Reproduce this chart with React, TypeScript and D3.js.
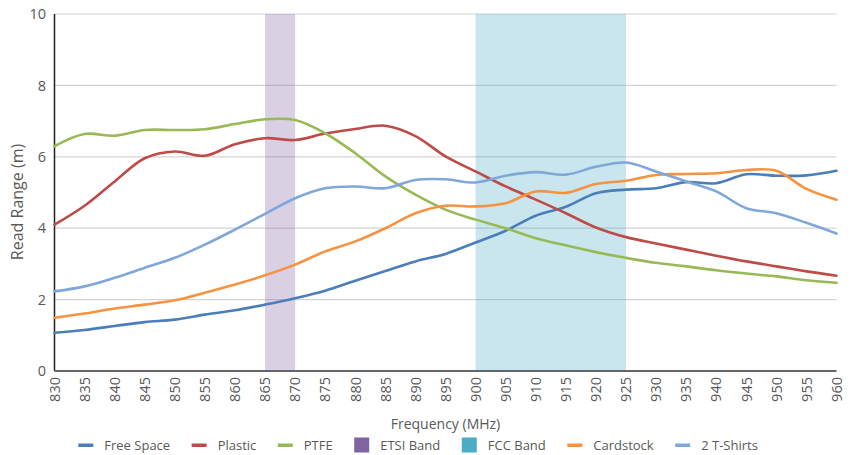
import React from 'react';
import * as d3 from 'd3';

const frequencies = [830, 835, 840, 845, 850, 855, 860, 865, 870, 875, 880, 885, 890, 895, 900, 905, 910, 915, 920, 925, 930, 935, 940, 945, 950, 955, 960];
const freeSpace = [1.07, 1.15, 1.26, 1.37, 1.44, 1.58, 1.70, 1.86, 2.04, 2.25, 2.53, 2.80, 3.07, 3.28, 3.60, 3.93, 4.35, 4.60, 4.98, 5.08, 5.12, 5.29, 5.26, 5.51, 5.47, 5.48, 5.61];
const plastic = [4.10, 4.63, 5.31, 5.96, 6.15, 6.03, 6.35, 6.52, 6.47, 6.65, 6.78, 6.87, 6.58, 6.01, 5.59, 5.17, 4.80, 4.42, 4.02, 3.75, 3.57, 3.40, 3.23, 3.07, 2.93, 2.79, 2.67];
const ptfe = [6.30, 6.64, 6.59, 6.75, 6.75, 6.77, 6.92, 7.05, 7.03, 6.66, 6.10, 5.45, 4.94, 4.52, 4.24, 4.00, 3.72, 3.52, 3.33, 3.17, 3.03, 2.93, 2.82, 2.73, 2.65, 2.54, 2.47];
const cardstock = [1.49, 1.61, 1.75, 1.86, 1.98, 2.19, 2.42, 2.68, 2.98, 3.35, 3.63, 4.00, 4.42, 4.63, 4.61, 4.70, 5.03, 4.99, 5.24, 5.33, 5.49, 5.52, 5.54, 5.63, 5.61, 5.10, 4.80];
const tShirts = [2.23, 2.37, 2.61, 2.89, 3.17, 3.54, 3.96, 4.40, 4.84, 5.12, 5.17, 5.12, 5.35, 5.37, 5.28, 5.47, 5.57, 5.50, 5.72, 5.84, 5.59, 5.31, 5.03, 4.56, 4.42, 4.15, 3.85];
const yTicks = [0, 2, 4, 6, 8, 10];
const etsiBand = [865, 870];
const fccBand = [900, 925];

const series = [
  { name: 'Free Space', values: freeSpace, color: '#4A7EBB' },
  { name: 'Plastic', values: plastic, color: '#BE4B48' },
  { name: 'PTFE', values: ptfe, color: '#98B954' },
  { name: 'Cardstock', values: cardstock, color: '#F69240' },
  { name: '2 T-Shirts', values: tShirts, color: '#7FA7D9' },
];

const bands = [
  { name: 'ETSI Band', range: etsiBand, color: '#8064A2' },
  { name: 'FCC Band', range: fccBand, color: '#4BACC6' },
];

const legendItems = [
  { name: 'Free Space', color: '#4A7EBB', kind: 'line' },
  { name: 'Plastic', color: '#BE4B48', kind: 'line' },
  { name: 'PTFE', color: '#98B954', kind: 'line' },
  { name: 'ETSI Band', color: '#8064A2', kind: 'box' },
  { name: 'FCC Band', color: '#4BACC6', kind: 'box' },
  { name: 'Cardstock', color: '#F69240', kind: 'line' },
  { name: '2 T-Shirts', color: '#7FA7D9', kind: 'line' },
];

const FONT = "'Open Sans', 'DejaVu Sans', sans-serif";
const TEXT = '#595959';

function measure(text: string, size: number): number {
  const c = document.createElement('canvas');
  const ctx = c.getContext('2d');
  if (!ctx) return text.length * size * 0.5;
  ctx.font = `${size}px 'Open Sans'`;
  return ctx.measureText(text).width;
}

export default function App() {
  const W = 856, H = 455;
  const x = d3.scaleLinear().domain([830, 960]).range([54.5, 836.5]);
  const y = d3.scaleLinear().domain([0, 10]).range([371, 14]);

  const line = d3
    .line<number>()
    .x((_, i) => x(frequencies[i]))
    .y((d) => y(d))
    .curve(d3.curveCatmullRom.alpha(0.5));

  let lx = 78.3;
  const legend = legendItems.map((it) => {
    const w = measure(it.name, 13);
    const pos = { ...it, x: lx, tx: lx + 26, w };
    lx = lx + 26 + w + 21.5;
    return pos;
  });

  return (
    <svg
      width={W}
      height={H}
      style={{ position: 'absolute', left: 0, top: 0, background: '#fff' }}
      fontFamily={FONT}
    >
      {yTicks.filter((t) => t > 0).map((t) => (
        <line key={t} x1={x(830)} x2={x(960)} y1={y(t)} y2={y(t)} stroke="#D4D4D4" strokeWidth={1.2} />
      ))}
      {bands.map((b) => (
        <rect
          key={b.name}
          x={x(b.range[0])}
          width={x(b.range[1]) - x(b.range[0])}
          y={y(10)}
          height={y(0) - y(10)}
          fill={b.color}
          fillOpacity={0.3}
        />
      ))}
      <line x1={x(830)} x2={x(830)} y1={y(10)} y2={y(0)} stroke="#222" strokeWidth={1.5} />
      <line x1={x(830)} x2={x(960)} y1={y(0)} y2={y(0)} stroke="#666" strokeWidth={2} />
      {series.map((s) => (
        <path key={s.name} d={line(s.values) || ''} fill="none" stroke={s.color} strokeWidth={2.6} strokeLinejoin="round" strokeLinecap="round" />
      ))}
      {yTicks.map((t) => (
        <text key={t} x={46} y={y(t)} dy="0.36em" textAnchor="end" fontSize={14.5} fill={TEXT}>
          {t}
        </text>
      ))}
      {frequencies.map((f) => (
        <text
          key={f}
          transform={`translate(${x(f)},377) rotate(-90)`}
          dy="0.36em"
          textAnchor="end"
          fontSize={14.5}
          fill={TEXT}
        >
          {f}
        </text>
      ))}
      <text transform="translate(17,202) rotate(-90)" dy="0.36em" textAnchor="middle" fontSize={16} fill={TEXT}>
        Read Range (m)
      </text>
      <text x={445.5} y={424} dy="0.36em" textAnchor="middle" fontSize={14} fill={TEXT}>
        Frequency (MHz)
      </text>
      {legend.map((it) => (
        <g key={it.name}>
          {it.kind === 'line' ? (
            <rect x={it.x} y={443.5} width={15} height={3.5} fill={it.color} />
          ) : (
            <rect x={it.x} y={437.5} width={15} height={15} fill={it.color} />
          )}
          <text x={it.tx} y={445} dy="0.36em" fontSize={13} fill={TEXT}>
            {it.name}
          </text>
        </g>
      ))}
    </svg>
  );
}
